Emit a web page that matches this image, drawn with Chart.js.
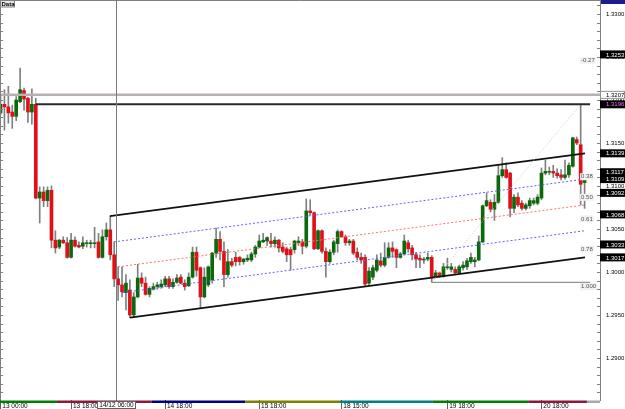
<!DOCTYPE html>
<html>
<head>
<meta charset="utf-8">
<script src="https://cdn.jsdelivr.net/npm/chart.js@4.4.0/dist/chart.umd.min.js"></script>
<style>
html, body { margin: 0; padding: 0; background: #fff; }
canvas { display: block; }
</style>
</head>
<body>
<canvas id="chart" width="625" height="409"></canvas>
<script>
// Bougies H1, une valeur par barre (index 0 = 13 00:00)
const openPrices = [
  1.3185, 1.3195, 1.3192, 1.3186, 1.3181, 1.3198, 1.3211, 1.3202, 1.3186, 1.3195,
  1.3086, 1.3093, 1.3083, 1.3095, 1.3037, 1.3029, 1.3037, 1.3034, 1.3017, 1.3037,
  1.3031, 1.3030, 1.3033, 1.3033, 1.3033, 1.3035, 1.3017, 1.3041, 1.3049, 1.3020,
  1.2992, 1.2985, 1.2976, 1.2979, 1.2950, 1.2971, 1.2993, 1.2987, 1.2974, 1.2980,
  1.2983, 1.2983, 1.2985, 1.2992, 1.2983, 1.2988, 1.2994, 1.2987, 1.2984, 1.2994,
  1.3023, 1.3005, 1.2971, 1.2985, 1.2991, 1.3022, 1.3038, 1.3024, 1.2997, 1.3012,
  1.3017, 1.3017, 1.3012, 1.3014, 1.3014, 1.3021, 1.3029, 1.3035, 1.3036, 1.3036,
  1.3033, 1.3037, 1.3029, 1.3027, 1.3026, 1.3026, 1.3034, 1.3035, 1.3030, 1.3071,
  1.3069, 1.3027, 1.3048, 1.3024, 1.3012, 1.3023, 1.3033, 1.3047, 1.3041, 1.3034,
  1.3036, 1.3023, 1.3017, 1.3017, 1.2987, 1.2994, 1.3002, 1.3013, 1.3008, 1.3017,
  1.3028, 1.3026, 1.3017, 1.3021, 1.3034, 1.3028, 1.3020, 1.3016, 1.3014, 1.3015,
  1.3017, 1.2994, 1.2999, 1.2995, 1.3005, 1.3003, 1.3003, 1.2999, 1.3005, 1.3006,
  1.3012, 1.3012, 1.3014, 1.3035, 1.3077, 1.3081, 1.3073, 1.3081, 1.3112, 1.3119,
  1.3115, 1.3074, 1.3087, 1.3080, 1.3074, 1.3077, 1.3080, 1.3080, 1.3086, 1.3115,
  1.3116, 1.3117, 1.3115, 1.3113, 1.3110, 1.3113, 1.3123, 1.3154, 1.3148, 1.3104
];
const highPrices = [
  1.3206, 1.3212, 1.3216, 1.3194, 1.3204, 1.3237, 1.3214, 1.3203, 1.3213, 1.3202,
  1.3099, 1.3099, 1.3099, 1.3100, 1.3048, 1.3038, 1.3041, 1.3040, 1.3045, 1.3041,
  1.3035, 1.3041, 1.3037, 1.3037, 1.3052, 1.3045, 1.3049, 1.3057, 1.3065, 1.3035,
  1.3006, 1.3006, 1.2997, 1.2991, 1.2976, 1.3009, 1.2999, 1.2994, 1.2983, 1.2987,
  1.2988, 1.2991, 1.2995, 1.2995, 1.2992, 1.2997, 1.2997, 1.2991, 1.2999, 1.3029,
  1.3029, 1.3006, 1.3005, 1.3007, 1.3023, 1.3051, 1.3047, 1.3035, 1.3026, 1.3016,
  1.3023, 1.3018, 1.3016, 1.3020, 1.3023, 1.3031, 1.3043, 1.3045, 1.3041, 1.3045,
  1.3041, 1.3038, 1.3034, 1.3029, 1.3029, 1.3037, 1.3041, 1.3038, 1.3085, 1.3084,
  1.3070, 1.3049, 1.3049, 1.3028, 1.3026, 1.3037, 1.3049, 1.3048, 1.3043, 1.3038,
  1.3038, 1.3028, 1.3022, 1.3020, 1.3005, 1.3008, 1.3020, 1.3022, 1.3034, 1.3034,
  1.3035, 1.3027, 1.3023, 1.3043, 1.3037, 1.3031, 1.3023, 1.3020, 1.3017, 1.3022,
  1.3019, 1.3002, 1.3000, 1.3010, 1.3016, 1.3010, 1.3006, 1.3008, 1.3012, 1.3016,
  1.3022, 1.3017, 1.3042, 1.3078, 1.3092, 1.3084, 1.3090, 1.3124, 1.3133, 1.3127,
  1.3116, 1.3090, 1.3092, 1.3083, 1.3080, 1.3086, 1.3086, 1.3090, 1.3121, 1.3130,
  1.3122, 1.3124, 1.3120, 1.3119, 1.3130, 1.3127, 1.3157, 1.3157, 1.3195, 1.3112
];
const lowPrices = [
  1.3183, 1.3165, 1.3173, 1.3167, 1.3176, 1.3197, 1.3188, 1.3174, 1.3172, 1.3085,
  1.3057, 1.3076, 1.3076, 1.3028, 1.3022, 1.3027, 1.3033, 1.3016, 1.3016, 1.3029,
  1.3028, 1.3027, 1.3029, 1.3028, 1.3028, 1.3016, 1.3016, 1.3037, 1.3014, 1.2983,
  1.2967, 1.2971, 1.2956, 1.2947, 1.2948, 1.2970, 1.2983, 1.2973, 1.2971, 1.2979,
  1.2980, 1.2981, 1.2983, 1.2981, 1.2981, 1.2987, 1.2986, 1.2979, 1.2983, 1.2993,
  1.2995, 1.2958, 1.2970, 1.2983, 1.2987, 1.3017, 1.3014, 1.2983, 1.2994, 1.3006,
  1.3007, 1.3008, 1.3009, 1.3012, 1.3012, 1.3017, 1.3028, 1.3034, 1.3031, 1.3029,
  1.3029, 1.3023, 1.3022, 1.3012, 1.3002, 1.3022, 1.3031, 1.3021, 1.3028, 1.3066,
  1.3026, 1.3026, 1.3022, 1.2994, 1.3010, 1.3020, 1.3023, 1.3040, 1.3031, 1.3031,
  1.3020, 1.3014, 1.3010, 1.2984, 1.2984, 1.2991, 1.3000, 1.3006, 1.3006, 1.3016,
  1.3017, 1.3005, 1.3016, 1.3020, 1.3023, 1.3014, 1.3005, 1.3005, 1.3010, 1.3013,
  1.2988, 1.2993, 1.2994, 1.2994, 1.3003, 1.3000, 1.2998, 1.2998, 1.3002, 1.3003,
  1.3010, 1.3006, 1.3013, 1.3034, 1.3076, 1.3070, 1.3060, 1.3080, 1.3110, 1.3109,
  1.3064, 1.3069, 1.3076, 1.3072, 1.3072, 1.3074, 1.3078, 1.3078, 1.3084, 1.3113,
  1.3113, 1.3110, 1.3109, 1.3107, 1.3108, 1.3110, 1.3122, 1.3148, 1.3078, 1.3074
];
const closePrices = [
  1.3195, 1.3192, 1.3185, 1.3181, 1.3200, 1.3212, 1.3201, 1.3186, 1.3195, 1.3086,
  1.3093, 1.3083, 1.3095, 1.3037, 1.3028, 1.3037, 1.3034, 1.3017, 1.3037, 1.3030,
  1.3029, 1.3034, 1.3034, 1.3034, 1.3034, 1.3017, 1.3041, 1.3049, 1.3020, 1.2992,
  1.2985, 1.2977, 1.2987, 1.2950, 1.2971, 1.2993, 1.2987, 1.2974, 1.2981, 1.2983,
  1.2985, 1.2986, 1.2992, 1.2983, 1.2988, 1.2993, 1.2987, 1.2983, 1.2994, 1.3023,
  1.3002, 1.2971, 1.2994, 1.3006, 1.3022, 1.3038, 1.3024, 1.2997, 1.3012, 1.3008,
  1.3012, 1.3012, 1.3015, 1.3016, 1.3021, 1.3029, 1.3036, 1.3037, 1.3040, 1.3033,
  1.3037, 1.3028, 1.3024, 1.3020, 1.3020, 1.3036, 1.3036, 1.3030, 1.3071, 1.3069,
  1.3027, 1.3048, 1.3024, 1.3012, 1.3023, 1.3035, 1.3047, 1.3041, 1.3034, 1.3036,
  1.3022, 1.3017, 1.3014, 1.2986, 1.3001, 1.3005, 1.3014, 1.3008, 1.3017, 1.3028,
  1.3024, 1.3017, 1.3021, 1.3036, 1.3027, 1.3020, 1.3015, 1.3014, 1.3015, 1.3017,
  1.2994, 1.2999, 1.2995, 1.3006, 1.3006, 1.3006, 1.2999, 1.3006, 1.3008, 1.3013,
  1.3017, 1.3014, 1.3035, 1.3077, 1.3083, 1.3073, 1.3081, 1.3112, 1.3119, 1.3110,
  1.3074, 1.3087, 1.3078, 1.3074, 1.3078, 1.3083, 1.3083, 1.3087, 1.3115, 1.3117,
  1.3117, 1.3115, 1.3112, 1.3110, 1.3113, 1.3124, 1.3156, 1.3150, 1.3102, 1.3109
];

// Axe du temps (index de barre) et étiquettes
const timeTickBars = [0, 18, 42, 66, 87, 114, 138];
const timeTickLabels = ['13 00:00', '13 18:00', '14 18:00', '15 18:00', '18 15:00', '19 18:00', '20 18:00'];
const xMin = -0.13, xMax = 152.93;

// Axe des prix
const yMin = 1.285116, yMax = 1.331628;
const priceLabels = [1.2900, 1.2950, 1.3000, 1.3050, 1.3100, 1.3150, 1.3200, 1.3250, 1.3300];

// Canal (début / fin en index de barre)
const upperLine = [[27.9, 1.3065], [149.1, 1.3138]];
const blueUpper = [[29.0, 1.3035], [149.1, 1.3108]];
const redMiddle = [[30.0, 1.3006], [149.1, 1.3078]];
const blueLower = [[31.0, 1.2976], [149.1, 1.3048]];
const lowerLine = [[33.0, 1.2947], [149.1, 1.3017]];

// Lignes horizontales et Fibonacci
const grayLevel = [[-0.2, 1.3206], [153, 1.3206]];
const blackLevel = [[9, 1.3195], [150.4, 1.3195]];
const fibDiagonal = [[110, 1.2988], [148, 1.3195]];
const fibBase = [[110, 1.2988], [150.4, 1.2988]];
const fibPrices = [1.3251, 1.3116, 1.3092, 1.3067, 1.3032, 1.2988];
const fibTexts = ['-0.27', '0.38', '0.50', '0.61', '0.78', '1.000'];
const fibLabelBar = 148.1;

// Etiquettes de prix sur l'axe
const axisBoxPrices = [1.3253, 1.3206, 1.3195, 1.3138, 1.3116, 1.3108, 1.3092, 1.3067, 1.3032, 1.3017];
const axisBoxTexts = ['1.3253', '1.3207', '1.3196', '1.3139', '1.3117', '1.3109', '1.3092', '1.3068', '1.3033', '1.3017'];
const axisBoxStyles = ['dark', 'light', 'pink', 'dark', 'dark', 'dark', 'dark', 'dark', 'dark', 'dark'];

// Curseur et bande des jours
const crossBar = 29.46;
const crossLabel = '14/12 06:00';
const dayBreaks = [-0.13, 14.4, 38.6, 62.4, 86.6, 110.3, 134.6, 149.6, 152.93];
const dayColors = ['#008000', '#8b1a3a', '#000080', '#808000', '#008080', '#008000', '#8b1a3a', '#a8a8a8'];

const toPoints = arr => arr.map(p => ({ x: p[0], y: p[1] }));
const bars = openPrices.map((_, i) => i);

function lineSet(points, color, width, dash) {
    return {
        type: 'line',
        data: toPoints(points),
        borderColor: color,
        borderWidth: width,
        borderDash: dash || [],
        pointRadius: 0,
        fill: false,
        tension: 0,
        order: 0
    };
}

const extras = {
    id: 'extras',
    afterDraw(chart) {
        const ctx = chart.ctx;
        const xs = chart.scales.x;
        const ys = chart.scales.y;
        const area = chart.chartArea;
        ctx.save();

        // cadre
        ctx.strokeStyle = '#808080';
        ctx.lineWidth = 1;
        ctx.beginPath();
        ctx.moveTo(0.5, area.bottom);
        ctx.lineTo(0.5, 0.5);
        ctx.lineTo(area.right, 0.5);
        ctx.stroke();

        // petites graduations vers l'intérieur
        ys.ticks.forEach(t => {
            const py = Math.round(ys.getPixelForValue(t.value)) + 0.5;
            ctx.beginPath();
            ctx.moveTo(0, py); ctx.lineTo(3, py);
            ctx.moveTo(area.right - 3, py); ctx.lineTo(area.right, py);
            ctx.stroke();
        });

        // curseur vertical
        const cx = Math.round(xs.getPixelForValue(crossBar)) + 0.5;
        ctx.strokeStyle = '#7a7a7a';
        ctx.beginPath();
        ctx.moveTo(cx, 0); ctx.lineTo(cx, chart.height);
        ctx.stroke();

        // bande colorée des jours
        for (let i = 0; i < dayColors.length; i++) {
            const x0 = xs.getPixelForValue(dayBreaks[i]);
            const x1 = xs.getPixelForValue(dayBreaks[i + 1]);
            ctx.fillStyle = dayColors[i];
            ctx.fillRect(x0, area.bottom + 0.5, x1 - x0, 2.5);
        }

        // étiquette du curseur
        ctx.font = '6.5px "Liberation Sans"';
        ctx.textBaseline = 'middle';
        ctx.textAlign = 'center';
        ctx.fillStyle = '#ffffff';
        ctx.fillRect(cx - 19, area.bottom + 1.5, 38, 7);
        ctx.strokeStyle = '#606060';
        ctx.strokeRect(cx - 19, area.bottom + 1.5, 38, 7);
        ctx.fillStyle = '#000';
        ctx.fillText(crossLabel, cx, area.bottom + 5.2);

        // niveaux de Fibonacci
        ctx.font = '6px "Liberation Sans"';
        ctx.textAlign = 'left';
        ctx.textBaseline = 'top';
        const fx = xs.getPixelForValue(fibLabelBar);
        fibPrices.forEach((p, i) => {
            const py = ys.getPixelForValue(p) + 1;
            const w = ctx.measureText(fibTexts[i]).width;
            ctx.fillStyle = '#f2f2f2';
            ctx.fillRect(fx - 1, py, w + 2, 7);
            ctx.fillStyle = '#505050';
            ctx.fillText(fibTexts[i], fx, py + 0.5);
        });

        // étiquettes de prix sur l'axe
        ctx.textBaseline = 'middle';
        axisBoxPrices.forEach((p, i) => {
            const py = ys.getPixelForValue(p);
            const style = axisBoxStyles[i];
            ctx.fillStyle = style === 'light' ? '#ffffff' : '#000000';
            ctx.fillRect(area.right, py - 4, chart.width - area.right, 8);
            if (style === 'light') {
                ctx.strokeStyle = '#909090';
                ctx.strokeRect(area.right + 0.5, py - 3.5, chart.width - area.right - 1, 7);
            }
            ctx.fillStyle = style === 'light' ? '#000' : (style === 'pink' ? '#ff66ff' : '#ffffff');
            ctx.fillText(axisBoxTexts[i], area.right + 6, py + 0.5);
        });

        // boîte "Data" et symbole en haut à droite
        ctx.fillStyle = '#e6e6e6';
        ctx.fillRect(0.5, 0.5, 14, 6.5);
        ctx.strokeStyle = '#808080';
        ctx.strokeRect(0.5, 0.5, 14, 6.5);
        ctx.fillStyle = '#000';
        ctx.font = 'bold 6px "Liberation Sans"';
        ctx.textBaseline = 'middle';
        ctx.fillText('Data', 1.5, 4);
        ctx.fillStyle = '#1c1c8c';
        ctx.fillRect(area.right + 1, 0, chart.width - area.right - 1, 4);

        ctx.restore();
    }
};

const ctx = document.getElementById('chart');
new Chart(ctx, {
    type: 'bar',
    data: {
        datasets: [
            lineSet(grayLevel, '#b8b0b0', 2.5),
            lineSet(blackLevel, '#2a2a2a', 2),
            lineSet(fibDiagonal, '#d0c0b8', 1, [1, 2]),
            lineSet(fibBase, '#7a7a7a', 1),
            lineSet(upperLine, '#111111', 1.8),
            lineSet(blueUpper, '#6060ff', 1, [2, 2]),
            lineSet(redMiddle, '#ff7070', 1, [2, 2]),
            lineSet(blueLower, '#6060ff', 1, [2, 2]),
            lineSet(lowerLine, '#111111', 1.8),
            {
                label: 'Mèches',
                data: bars.map(i => ({ x: i, y: [lowPrices[i], highPrices[i]] })),
                backgroundColor: '#808080',
                barThickness: 1,
                grouped: false,
                order: 3
            },
            {
                label: 'Corps',
                data: bars.map(i => ({ x: i, y: [openPrices[i], closePrices[i]] })),
                backgroundColor: bars.map(i => closePrices[i] >= openPrices[i] ? '#0b690b' : '#e01018'),
                barThickness: 3,
                grouped: false,
                order: 2
            }
        ]
    },
    options: {
        responsive: false,
        animation: false,
        events: [],
        layout: { padding: 0, autoPadding: false },
        plugins: {
            legend: { display: false },
            tooltip: { enabled: false },
            title: { display: false }
        },
        scales: {
            x: {
                type: 'linear',
                offset: false,
                min: xMin,
                max: xMax,
                afterBuildTicks: scale => {
                    scale.ticks = timeTickBars.map(v => ({ value: v }));
                },
                afterFit: scale => {
                    scale.height = 9;
                    scale.paddingLeft = 0;
                    scale.paddingRight = 0;
                },
                grid: {
                    offset: false,
                    drawOnChartArea: false,
                    drawTicks: true,
                    tickLength: 9,
                    tickColor: '#606060'
                },
                border: { display: false },
                ticks: {
                    align: 'start',
                    padding: -7,
                    autoSkip: false,
                    maxRotation: 0,
                    color: '#000',
                    font: { family: 'Liberation Sans', size: 6.5 },
                    callback: (v, i) => ' ' + timeTickLabels[i]
                }
            },
            y: {
                position: 'right',
                min: yMin,
                max: yMax,
                afterBuildTicks: scale => {
                    const ticks = [];
                    for (let k = 12860; k <= 13310; k += 10) {
                        ticks.push({ value: k / 10000 });
                    }
                    scale.ticks = ticks;
                },
                afterFit: scale => {
                    scale.width = 25;
                    scale.paddingTop = 0;
                    scale.paddingBottom = 0;
                },
                grid: { drawOnChartArea: false, drawTicks: false },
                border: { display: true, color: '#808080' },
                ticks: {
                    padding: 6,
                    autoSkip: false,
                    color: '#000',
                    font: { family: 'Liberation Sans', size: 6 },
                    callback: v => priceLabels.some(p => Math.abs(p - v) < 1e-6) ? v.toFixed(4) : ''
                }
            }
        }
    },
    plugins: [extras]
});
</script>
</body>
</html>
